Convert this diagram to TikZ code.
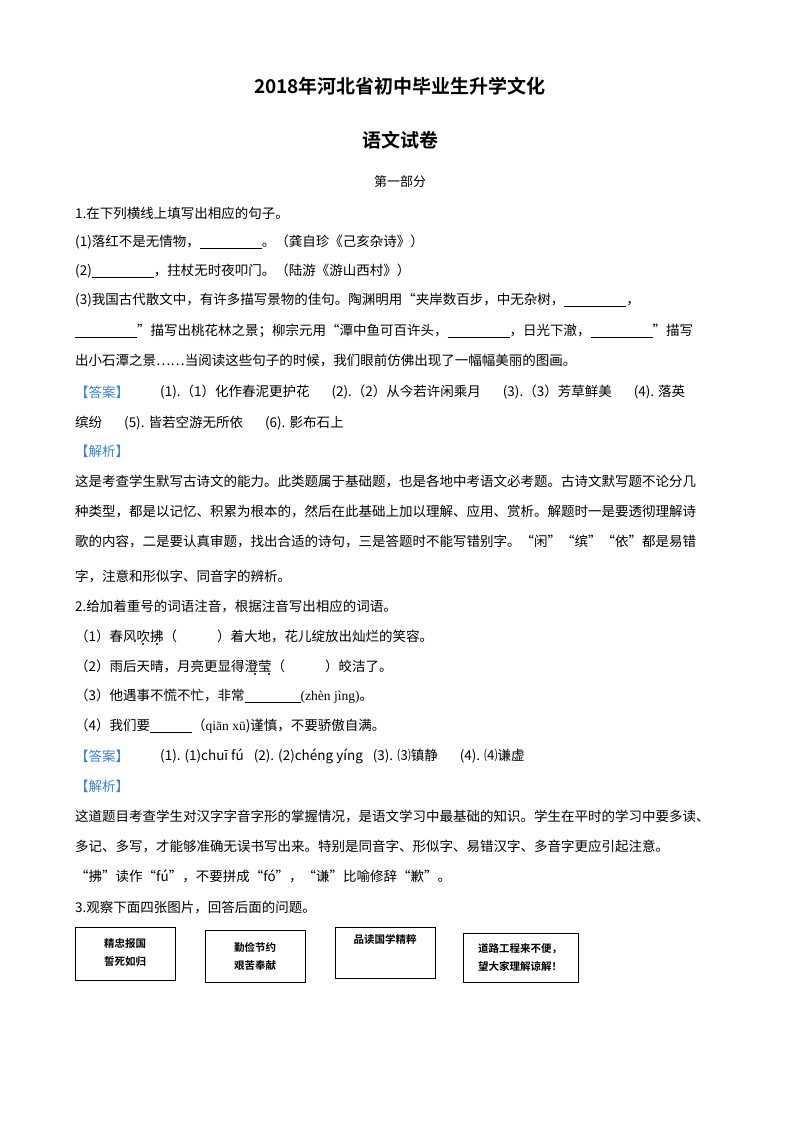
\documentclass[tikz,border=0pt]{standalone}
\usepackage{fontspec}
\setmainfont{Noto Sans CJK SC}
\newfontfamily\cjkb{Noto Sans CJK SC Bold}
\newfontfamily\latn{Liberation Serif}
\newcommand{\blk}[1]{\rule[-2pt]{#1}{0.7pt}}
\definecolor{ansblue}{RGB}{60,130,210}
\begin{document}
\begin{tikzpicture}[x=1pt,y=-1pt,
  ln/.style={anchor=west,inner sep=0,font=\fontsize{13.5}{16}\selectfont},
  ttl/.style={anchor=center,inner sep=0,font=\fontsize{19}{22}\selectfont\cjkb},
  bx/.style={draw,line width=0.8pt,fill=white},
  bt/.style={font=\fontsize{10.5}{18}\selectfont\cjkb,align=center,inner sep=0}]
\useasboundingbox (0,0) rectangle (800,1132);
\node[ttl] (t1) at (400,86) {2018年河北省初中毕业生升学文化};
\node[ttl] (t2) at (400,140) {语文试卷};
\node[anchor=center,inner sep=0,font=\fontsize{13}{16}\selectfont] (p1) at (400,182) {第一部分};
\node[ln] (l1) at (75,213) {1.在下列横线上填写出相应的句子。};
\node[ln] (l2) at (75,242) {(1)落红不是无情物，\blk{62pt}。（龚自珍《己亥杂诗》）};
\node[ln] (l3) at (75,271) {(2)\blk{62pt}，拄杖无时夜叩门。（陆游《游山西村》）};
\node[ln] (l4) at (75,300) {(3)我国古代散文中，有许多描写景物的佳句。陶渊明用“夹岸数百步，中无杂树，\blk{62pt}，};
\node[ln] (l5) at (75,331) {\blk{62pt}”描写出桃花林之景；柳宗元用“潭中鱼可百许头，\blk{62pt}，日光下澈，\blk{62pt}”描写};
\node[ln] (l6) at (75,361) {出小石潭之景……当阅读这些句子的时候，我们眼前仿佛出现了一幅幅美丽的图画。};
\node[ln,text=ansblue] (a1) at (75,392) {【答案】};
\node[ln] (a1b) at (160,392) {(1).（1）化作春泥更护花\hspace{22pt}(2).（2）从今若许闲乘月\hspace{22pt}(3).（3）芳草鲜美\hspace{22pt}(4). 落英};
\node[ln] (a1c) at (75,423) {缤纷\hspace{22pt}(5). 皆若空游无所依\hspace{22pt}(6). 影布石上};
\node[ln,text=ansblue] (j1) at (75,451) {【解析】};
\node[ln] (j1a) at (75,481) {这是考查学生默写古诗文的能力。此类题属于基础题，也是各地中考语文必考题。古诗文默写题不论分几};
\node[ln] (j1b) at (75,511) {种类型，都是以记忆、积累为根本的，然后在此基础上加以理解、应用、赏析。解题时一是要透彻理解诗};
\node[ln] (j1c) at (75,541) {歌的内容，二是要认真审题，找出合适的诗句，三是答题时不能写错别字。“闲”“缤”“依”都是易错};
\node[ln] (j1d) at (75,576) {字，注意和形似字、同音字的辨析。};
\node[ln] (q2) at (75,606) {2.给加着重号的词语注音，根据注音写出相应的词语。};
\node[ln] (q2a) at (75,636) {（1）春风吹拂（\hspace{40pt}）着大地，花儿绽放出灿烂的笑容。};
\node[ln] (q2b) at (75,666) {（2）雨后天晴，月亮更显得澄莹（\hspace{40pt}）皎洁了。};
\node[ln] (q2c) at (75,696) {（3）他遇事不慌不忙，非常\blk{56pt}{\latn (zhèn jìng)}。};
\node[ln] (q2d) at (75,726) {（4）我们要\blk{42pt}（{\latn qiān xū})谨慎，不要骄傲自满。};
\node[ln,text=ansblue] (a2) at (75,756) {【答案】};
\node[ln] (a2b) at (160,756) {(1). (1)chuī fú\hspace{10pt}(2). (2)chéng yíng\hspace{10pt}(3). ⑶镇静\hspace{22pt}(4). ⑷谦虚};
\node[ln,text=ansblue] (j2) at (75,786) {【解析】};
\node[ln] (j2a) at (75,816) {这道题目考查学生对汉字字音字形的掌握情况，是语文学习中最基础的知识。学生在平时的学习中要多读、};
\node[ln] (j2b) at (75,846) {多记、多写，才能够准确无误书写出来。特别是同音字、形似字、易错汉字、多音字更应引起注意。};
\node[ln] (j2c) at (75,876) {“拂”读作“fú”，不要拼成“fó”，“谦”比喻修辞“歉”。};
\node[ln] (q3) at (75,908) {3.观察下面四张图片，回答后面的问题。};
\foreach \x/\y in {143/644,157/644,255/674,269/674} \fill (\x,\y) circle (1.1);
\draw[bx] (75,927) rectangle (175,980);
\node[bt] (b1) at (125,953) {精忠报国\\誓死如归};
\draw[bx] (205,930) rectangle (305,982);
\node[bt] (b2) at (255,956) {勤俭节约\\艰苦奉献};
\draw[bx] (335,927) rectangle (435,978);
\node[bt] (b3) at (385,939) {品读国学精粹};
\draw[bx] (463,933) rectangle (578,982);
\node[bt] (b4) at (520,957) {道路工程来不便，\\望大家理解谅解！};
\end{tikzpicture}
\end{document}
